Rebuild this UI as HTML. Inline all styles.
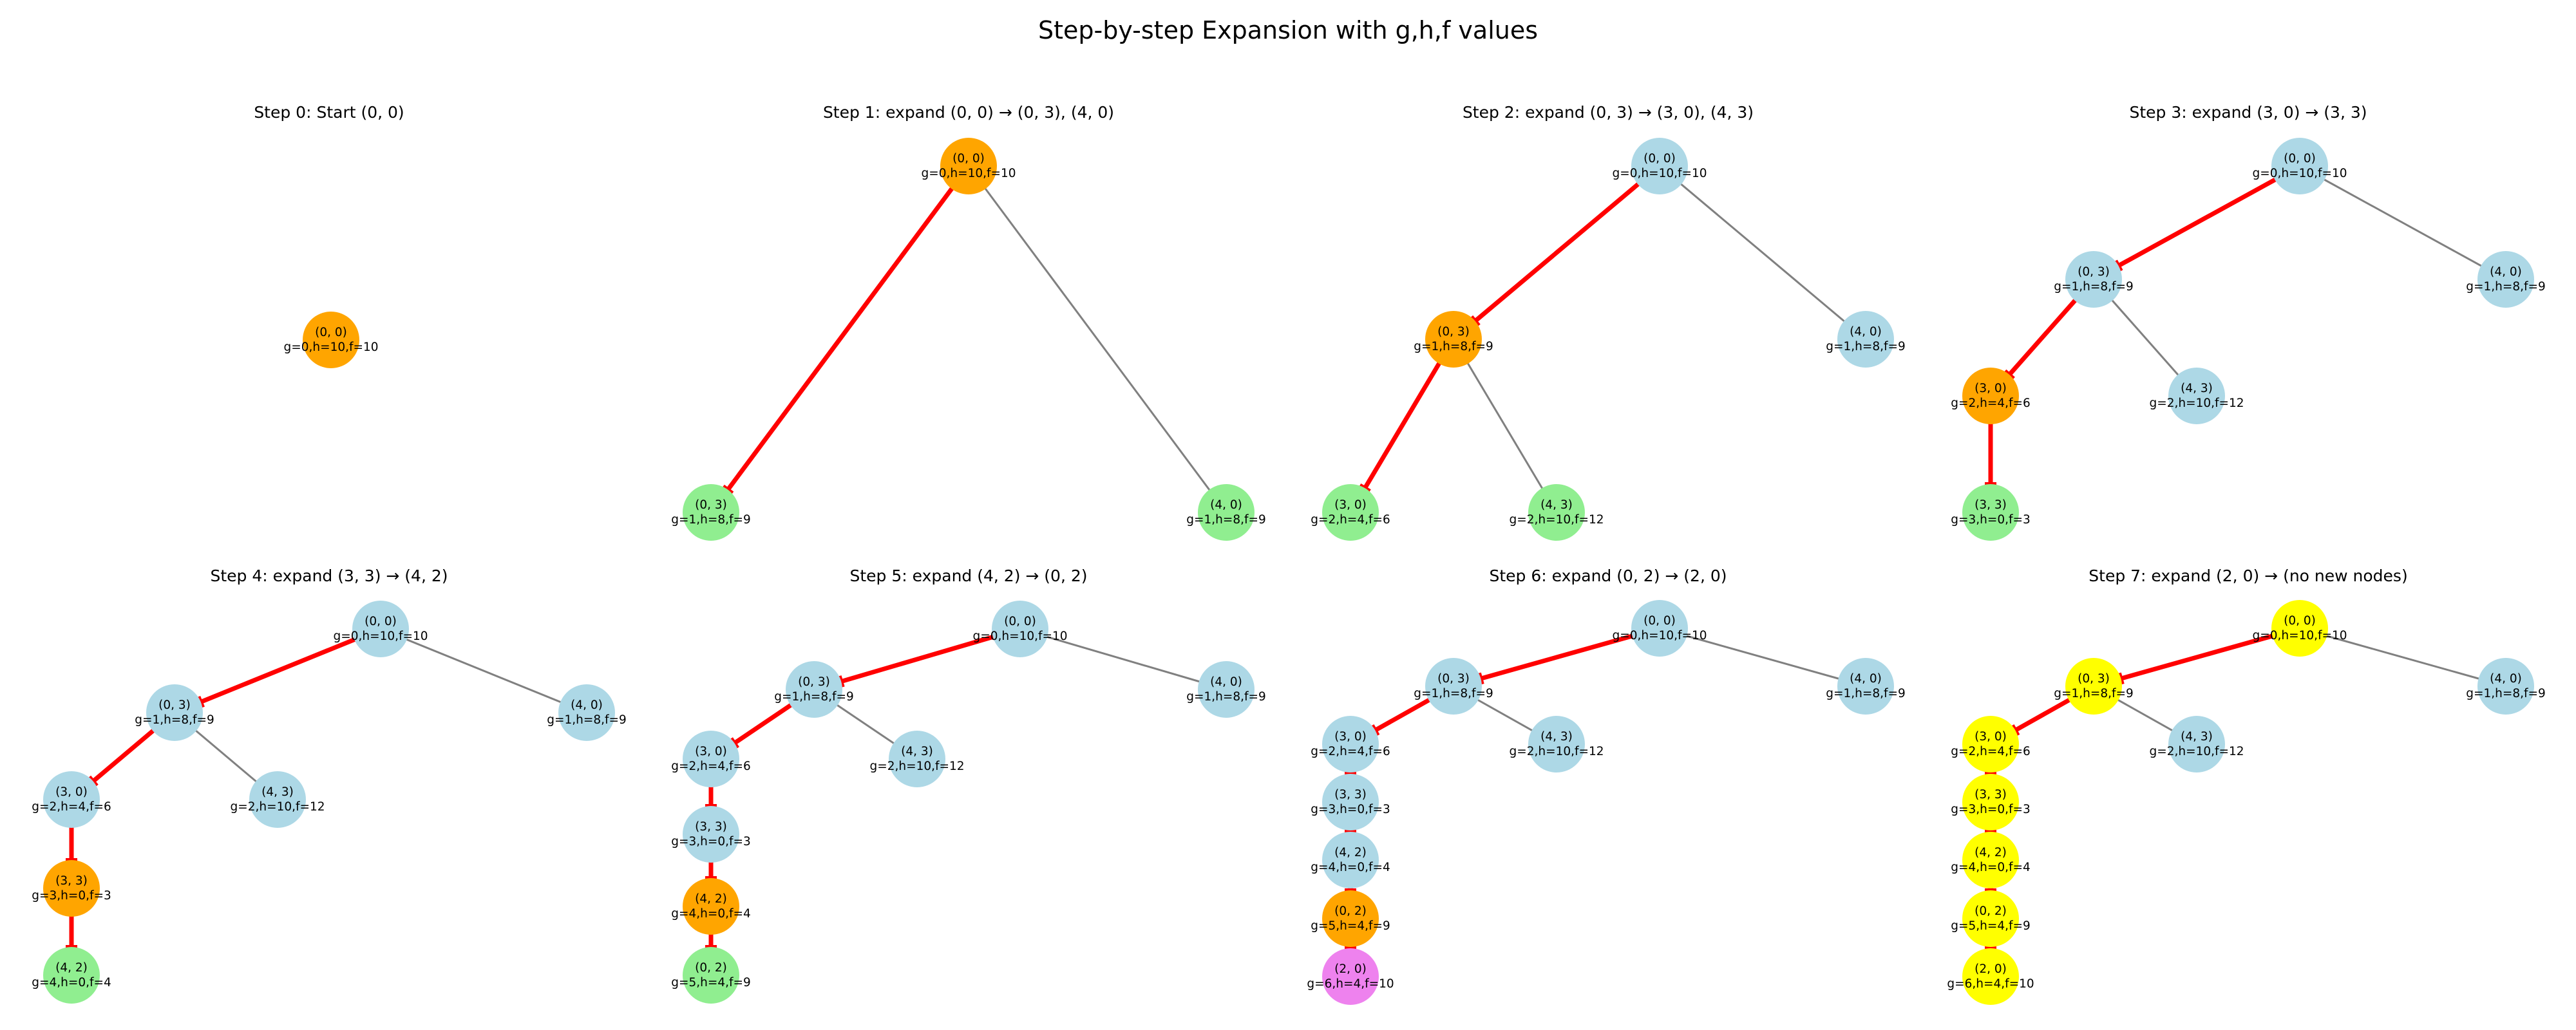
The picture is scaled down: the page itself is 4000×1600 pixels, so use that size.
<!DOCTYPE html>
<html><head><meta charset="utf-8"><style>
html,body{margin:0;padding:0;background:#fff}
svg{display:block}
text{font-family:"DejaVu Sans","Liberation Sans",sans-serif;text-anchor:middle;fill:#000}
.n text{font-size:18.5px}
.t{font-size:25px}
.r{stroke:#ff0000;stroke-width:7;marker-end:url(#bar)}
.g{stroke:#808080;stroke-width:3}
.lb{fill:#add8e6}.or{fill:#ffa500}.gr{fill:#90ee90}.vi{fill:#ee82ee}.ye{fill:#ffff00}
</style></head><body>
<svg width="4000" height="1600" viewBox="0 0 4000 1600" xmlns="http://www.w3.org/2000/svg">
<defs><marker id="bar" markerUnits="userSpaceOnUse" orient="auto" refX="44" refY="0" markerWidth="100" markerHeight="100" viewBox="-50 -50 100 100" style="overflow:visible"><path d="M0,-9 L0,9" stroke="#ff0000" stroke-width="6"/></marker></defs>
<text x="2000" y="60" style="font-size:38px">Step-by-step Expansion with g,h,f values</text>

<!-- Step 0 -->
<text class="t" x="511" y="183">Step 0: Start (0, 0)</text>
<g class="n" transform="translate(514,528)"><circle r="44" class="or"/><text y="-6">(0, 0)</text><text y="17">g=0,h=10,f=10</text></g>

<!-- Step 1 -->
<text class="t" x="1504" y="183">Step 1: expand (0, 0) → (0, 3), (4, 0)</text>
<line class="g" x1="1504" y1="258" x2="1904" y2="796"/>
<line class="r" x1="1504" y1="258" x2="1104" y2="796"/>
<g class="n" transform="translate(1504,258)"><circle r="44" class="or"/><text y="-6">(0, 0)</text><text y="17">g=0,h=10,f=10</text></g>
<g class="n" transform="translate(1104,796)"><circle r="44" class="gr"/><text y="-6">(0, 3)</text><text y="17">g=1,h=8,f=9</text></g>
<g class="n" transform="translate(1904,796)"><circle r="44" class="gr"/><text y="-6">(4, 0)</text><text y="17">g=1,h=8,f=9</text></g>

<!-- Step 2 -->
<text class="t" x="2497" y="183">Step 2: expand (0, 3) → (3, 0), (4, 3)</text>
<line class="g" x1="2577" y1="258" x2="2897" y2="527"/>
<line class="g" x1="2257" y1="527" x2="2417" y2="796"/>
<line class="r" x1="2577" y1="258" x2="2257" y2="527"/>
<line class="r" x1="2257" y1="527" x2="2097" y2="796"/>
<g class="n" transform="translate(2577,258)"><circle r="44" class="lb"/><text y="-6">(0, 0)</text><text y="17">g=0,h=10,f=10</text></g>
<g class="n" transform="translate(2257,527)"><circle r="44" class="or"/><text y="-6">(0, 3)</text><text y="17">g=1,h=8,f=9</text></g>
<g class="n" transform="translate(2897,527)"><circle r="44" class="lb"/><text y="-6">(4, 0)</text><text y="17">g=1,h=8,f=9</text></g>
<g class="n" transform="translate(2097,796)"><circle r="44" class="gr"/><text y="-6">(3, 0)</text><text y="17">g=2,h=4,f=6</text></g>
<g class="n" transform="translate(2417,796)"><circle r="44" class="gr"/><text y="-6">(4, 3)</text><text y="17">g=2,h=10,f=12</text></g>

<!-- Step 3 -->
<text class="t" x="3491" y="183">Step 3: expand (3, 0) → (3, 3)</text>
<line class="g" x1="3571" y1="258" x2="3891" y2="434"/>
<line class="g" x1="3251" y1="434" x2="3411" y2="615"/>
<line class="r" x1="3571" y1="258" x2="3251" y2="434"/>
<line class="r" x1="3251" y1="434" x2="3091" y2="615"/>
<line class="r" x1="3091" y1="615" x2="3091" y2="796"/>
<g class="n" transform="translate(3571,258)"><circle r="44" class="lb"/><text y="-6">(0, 0)</text><text y="17">g=0,h=10,f=10</text></g>
<g class="n" transform="translate(3251,434)"><circle r="44" class="lb"/><text y="-6">(0, 3)</text><text y="17">g=1,h=8,f=9</text></g>
<g class="n" transform="translate(3891,434)"><circle r="44" class="lb"/><text y="-6">(4, 0)</text><text y="17">g=1,h=8,f=9</text></g>
<g class="n" transform="translate(3091,615)"><circle r="44" class="or"/><text y="-6">(3, 0)</text><text y="17">g=2,h=4,f=6</text></g>
<g class="n" transform="translate(3411,615)"><circle r="44" class="lb"/><text y="-6">(4, 3)</text><text y="17">g=2,h=10,f=12</text></g>
<g class="n" transform="translate(3091,796)"><circle r="44" class="gr"/><text y="-6">(3, 3)</text><text y="17">g=3,h=0,f=3</text></g>

<!-- Step 4 -->
<text class="t" x="511" y="903">Step 4: expand (3, 3) → (4, 2)</text>
<line class="g" x1="591" y1="977" x2="911" y2="1107"/>
<line class="g" x1="271" y1="1107" x2="431" y2="1242"/>
<line class="r" x1="591" y1="977" x2="271" y2="1107"/>
<line class="r" x1="271" y1="1107" x2="111" y2="1242"/>
<line class="r" x1="111" y1="1242" x2="111" y2="1380"/>
<line class="r" x1="111" y1="1380" x2="111" y2="1515"/>
<g class="n" transform="translate(591,977)"><circle r="44" class="lb"/><text y="-6">(0, 0)</text><text y="17">g=0,h=10,f=10</text></g>
<g class="n" transform="translate(271,1107)"><circle r="44" class="lb"/><text y="-6">(0, 3)</text><text y="17">g=1,h=8,f=9</text></g>
<g class="n" transform="translate(911,1107)"><circle r="44" class="lb"/><text y="-6">(4, 0)</text><text y="17">g=1,h=8,f=9</text></g>
<g class="n" transform="translate(111,1242)"><circle r="44" class="lb"/><text y="-6">(3, 0)</text><text y="17">g=2,h=4,f=6</text></g>
<g class="n" transform="translate(431,1242)"><circle r="44" class="lb"/><text y="-6">(4, 3)</text><text y="17">g=2,h=10,f=12</text></g>
<g class="n" transform="translate(111,1380)"><circle r="44" class="or"/><text y="-6">(3, 3)</text><text y="17">g=3,h=0,f=3</text></g>
<g class="n" transform="translate(111,1515)"><circle r="44" class="gr"/><text y="-6">(4, 2)</text><text y="17">g=4,h=0,f=4</text></g>

<!-- Step 5 -->
<text class="t" x="1504" y="903">Step 5: expand (4, 2) → (0, 2)</text>
<line class="g" x1="1584" y1="977" x2="1904" y2="1071"/>
<line class="g" x1="1264" y1="1071" x2="1424" y2="1179"/>
<line class="r" x1="1584" y1="977" x2="1264" y2="1071"/>
<line class="r" x1="1264" y1="1071" x2="1104" y2="1179"/>
<line class="r" x1="1104" y1="1179" x2="1104" y2="1296"/>
<line class="r" x1="1104" y1="1296" x2="1104" y2="1408"/>
<line class="r" x1="1104" y1="1408" x2="1104" y2="1515"/>
<g class="n" transform="translate(1584,977)"><circle r="44" class="lb"/><text y="-6">(0, 0)</text><text y="17">g=0,h=10,f=10</text></g>
<g class="n" transform="translate(1264,1071)"><circle r="44" class="lb"/><text y="-6">(0, 3)</text><text y="17">g=1,h=8,f=9</text></g>
<g class="n" transform="translate(1904,1071)"><circle r="44" class="lb"/><text y="-6">(4, 0)</text><text y="17">g=1,h=8,f=9</text></g>
<g class="n" transform="translate(1104,1179)"><circle r="44" class="lb"/><text y="-6">(3, 0)</text><text y="17">g=2,h=4,f=6</text></g>
<g class="n" transform="translate(1424,1179)"><circle r="44" class="lb"/><text y="-6">(4, 3)</text><text y="17">g=2,h=10,f=12</text></g>
<g class="n" transform="translate(1104,1296)"><circle r="44" class="lb"/><text y="-6">(3, 3)</text><text y="17">g=3,h=0,f=3</text></g>
<g class="n" transform="translate(1104,1408)"><circle r="44" class="or"/><text y="-6">(4, 2)</text><text y="17">g=4,h=0,f=4</text></g>
<g class="n" transform="translate(1104,1515)"><circle r="44" class="gr"/><text y="-6">(0, 2)</text><text y="17">g=5,h=4,f=9</text></g>

<!-- Step 6 -->
<text class="t" x="2497" y="903">Step 6: expand (0, 2) → (2, 0)</text>
<line class="g" x1="2577" y1="976" x2="2897" y2="1066"/>
<line class="g" x1="2257" y1="1066" x2="2417" y2="1156"/>
<line class="r" x1="2577" y1="976" x2="2257" y2="1066"/>
<line class="r" x1="2257" y1="1066" x2="2097" y2="1156"/>
<line class="r" x1="2097" y1="1156" x2="2097" y2="1246"/>
<line class="r" x1="2097" y1="1246" x2="2097" y2="1336"/>
<line class="r" x1="2097" y1="1336" x2="2097" y2="1427"/>
<line class="r" x1="2097" y1="1427" x2="2097" y2="1517"/>
<g class="n" transform="translate(2577,976)"><circle r="44" class="lb"/><text y="-6">(0, 0)</text><text y="17">g=0,h=10,f=10</text></g>
<g class="n" transform="translate(2257,1066)"><circle r="44" class="lb"/><text y="-6">(0, 3)</text><text y="17">g=1,h=8,f=9</text></g>
<g class="n" transform="translate(2897,1066)"><circle r="44" class="lb"/><text y="-6">(4, 0)</text><text y="17">g=1,h=8,f=9</text></g>
<g class="n" transform="translate(2097,1156)"><circle r="44" class="lb"/><text y="-6">(3, 0)</text><text y="17">g=2,h=4,f=6</text></g>
<g class="n" transform="translate(2417,1156)"><circle r="44" class="lb"/><text y="-6">(4, 3)</text><text y="17">g=2,h=10,f=12</text></g>
<g class="n" transform="translate(2097,1246)"><circle r="44" class="lb"/><text y="-6">(3, 3)</text><text y="17">g=3,h=0,f=3</text></g>
<g class="n" transform="translate(2097,1336)"><circle r="44" class="lb"/><text y="-6">(4, 2)</text><text y="17">g=4,h=0,f=4</text></g>
<g class="n" transform="translate(2097,1427)"><circle r="44" class="or"/><text y="-6">(0, 2)</text><text y="17">g=5,h=4,f=9</text></g>
<g class="n" transform="translate(2097,1517)"><circle r="44" class="vi"/><text y="-6">(2, 0)</text><text y="17">g=6,h=4,f=10</text></g>

<!-- Step 7 -->
<text class="t" x="3491" y="903">Step 7: expand (2, 0) → (no new nodes)</text>
<line class="g" x1="3571" y1="976" x2="3891" y2="1066"/>
<line class="g" x1="3251" y1="1066" x2="3411" y2="1156"/>
<line class="r" x1="3571" y1="976" x2="3251" y2="1066"/>
<line class="r" x1="3251" y1="1066" x2="3091" y2="1156"/>
<line class="r" x1="3091" y1="1156" x2="3091" y2="1246"/>
<line class="r" x1="3091" y1="1246" x2="3091" y2="1336"/>
<line class="r" x1="3091" y1="1336" x2="3091" y2="1427"/>
<line class="r" x1="3091" y1="1427" x2="3091" y2="1517"/>
<g class="n" transform="translate(3571,976)"><circle r="44" class="ye"/><text y="-6">(0, 0)</text><text y="17">g=0,h=10,f=10</text></g>
<g class="n" transform="translate(3251,1066)"><circle r="44" class="ye"/><text y="-6">(0, 3)</text><text y="17">g=1,h=8,f=9</text></g>
<g class="n" transform="translate(3891,1066)"><circle r="44" class="lb"/><text y="-6">(4, 0)</text><text y="17">g=1,h=8,f=9</text></g>
<g class="n" transform="translate(3091,1156)"><circle r="44" class="ye"/><text y="-6">(3, 0)</text><text y="17">g=2,h=4,f=6</text></g>
<g class="n" transform="translate(3411,1156)"><circle r="44" class="lb"/><text y="-6">(4, 3)</text><text y="17">g=2,h=10,f=12</text></g>
<g class="n" transform="translate(3091,1246)"><circle r="44" class="ye"/><text y="-6">(3, 3)</text><text y="17">g=3,h=0,f=3</text></g>
<g class="n" transform="translate(3091,1336)"><circle r="44" class="ye"/><text y="-6">(4, 2)</text><text y="17">g=4,h=0,f=4</text></g>
<g class="n" transform="translate(3091,1427)"><circle r="44" class="ye"/><text y="-6">(0, 2)</text><text y="17">g=5,h=4,f=9</text></g>
<g class="n" transform="translate(3091,1517)"><circle r="44" class="ye"/><text y="-6">(2, 0)</text><text y="17">g=6,h=4,f=10</text></g>
</svg>
</body></html>
